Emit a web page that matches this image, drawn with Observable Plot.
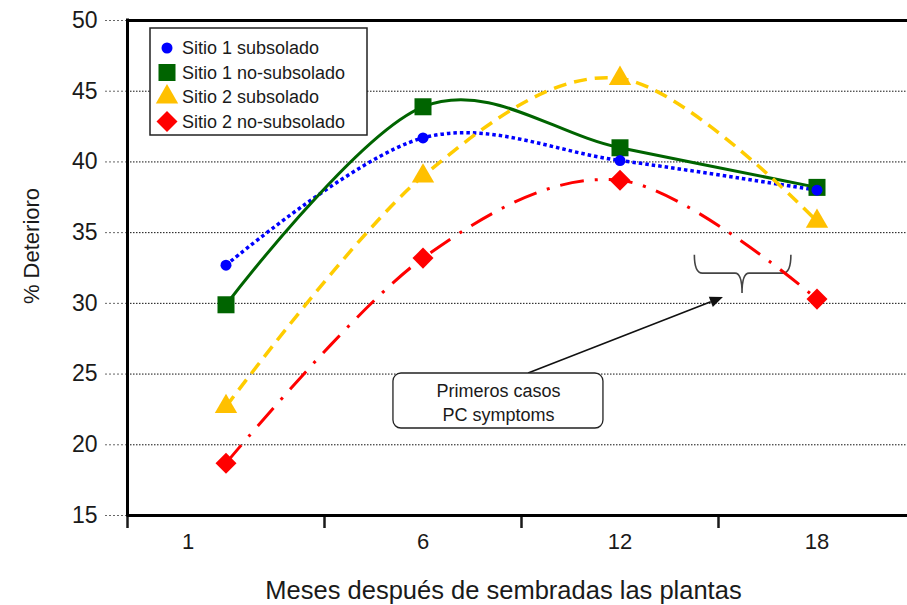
<!DOCTYPE html>
<html>
<head>
<meta charset="utf-8">
<script src="https://cdn.jsdelivr.net/npm/d3@7"></script>
<script src="https://cdn.jsdelivr.net/npm/@observablehq/plot@0.6"></script>
<style>
  html, body { margin: 0; padding: 0; background: #fff; overflow: hidden; }
  #chart svg [aria-label="y-axis tick"] path { stroke-dasharray: 2 2; }
</style>
</head>
<body>
<div id="chart"></div>
<script>
// Months after planting (category labels on the x axis)
const months = [1, 6, 12, 18];

// Series names
const series = ["Sitio 1 subsolado", "Sitio 1 no-subsolado", "Sitio 2 subsolado", "Sitio 2 no-subsolado"];

// % deterioration per series, one value per month
const sitio1Subsolado   = [32.7, 41.7, 40.1, 38.0];
const sitio1NoSubsolado = [29.9, 43.9, 41.0, 38.2];
const sitio2Subsolado   = [22.7, 39.0, 45.9, 35.8];
const sitio2NoSubsolado = [18.7, 33.2, 38.7, 30.3];

// y axis ticks
const yTicks = [15, 20, 25, 30, 35, 40, 45, 50];

// Callout: box with text, arrow and brace (data units: x = category slot, y = %)
const calloutBox = { x1: 1.35, x2: 2.416, y1: 21.15, y2: 25.04, text: "Primeros casos\nPC symptoms" };
const calloutArrow = { x1: 2.036, y1: 25.04, x2: 3.025, y2: 30.41 };
const calloutBrace = { x1: 2.88, xm: 3.122, x2: 3.37, top: 33.4, mid: 32.1, tip: 30.7 };

// Styling per series
const lineColors = ["#0000ff", "#006400", "#ffcc00", "#ff0000"];
const markerColors = ["#0000ff", "#006400", "#ffc000", "#ff0000"];
const lineDashes = ["3.5 3", null, "13 8", "24 11 3 11"];
const lineWidths = [3.5, 3, 3.5, 3];
const diamondSymbol = {
  draw(ctx, size) {
    const r = Math.sqrt(size / 2);
    ctx.moveTo(0, -r); ctx.lineTo(r, 0); ctx.lineTo(0, r); ctx.lineTo(-r, 0); ctx.closePath();
  }
};
const markerSymbols = [d3.symbolCircle, d3.symbolSquare, d3.symbolTriangle, diamondSymbol];
const markerRadii = [5.5, 9.6, 8.3, 8.4];

const values = [sitio1Subsolado, sitio1NoSubsolado, sitio2Subsolado, sitio2NoSubsolado];
const rows = series.flatMap((s, k) => values[k].map((v, i) => ({ serie: s, k, x: i + 0.5, y: v })));

// Legend drawn inside the frame, top-left
function legend(index, scales, vals, dims) {
  const g = d3.create("svg:g");
  const x0 = dims.marginLeft + 23, y0 = dims.marginTop + 8;
  g.append("rect")
    .attr("x", x0).attr("y", y0).attr("width", 217).attr("height", 107)
    .attr("fill", "#fff").attr("stroke", "#222").attr("stroke-width", 1.5);
  series.forEach((s, k) => {
    const cy = y0 + 20 + k * 24.5;
    g.append("path")
      .attr("transform", `translate(${x0 + 17},${cy})`)
      .attr("d", d3.symbol(markerSymbols[k], Math.PI * markerRadii[k] ** 2)())
      .attr("fill", markerColors[k]);
    g.append("text")
      .attr("x", x0 + 32).attr("y", cy).attr("dy", "0.35em")
      .attr("text-anchor", "start")
      .attr("font-size", 18).attr("fill", "#1a1a1a")
      .text(s);
  });
  return g.node();
}

// Arrow and brace of the callout
function calloutMarks(index, scales) {
  const sx = scales.x, sy = scales.y;
  const g = d3.create("svg:g");
  // brace
  const b = calloutBrace;
  const bx1 = sx(b.x1), bxm = sx(b.xm), bx2 = sx(b.x2);
  const bt = sy(b.top), bm = sy(b.mid), bp = sy(b.tip);
  const p = d3.path();
  p.moveTo(bx1, bt); p.quadraticCurveTo(bx1, bm, bx1 + 8, bm); p.lineTo(bxm - 7, bm); p.quadraticCurveTo(bxm, bm, bxm, bp);
  p.moveTo(bx2, bt); p.quadraticCurveTo(bx2, bm, bx2 - 8, bm); p.lineTo(bxm + 7, bm); p.quadraticCurveTo(bxm, bm, bxm, bp);
  g.append("path").attr("d", p.toString()).attr("fill", "none").attr("stroke", "#444").attr("stroke-width", 1.6);
  // arrow
  const a = calloutArrow;
  const ax1 = sx(a.x1), ay1 = sy(a.y1), ax2 = sx(a.x2), ay2 = sy(a.y2);
  const ang = Math.atan2(ay2 - ay1, ax2 - ax1);
  const hl = 13, hw = 5.5;
  const bxp = ax2 - hl * Math.cos(ang), byp = ay2 - hl * Math.sin(ang);
  g.append("line").attr("x1", ax1).attr("y1", ay1).attr("x2", bxp).attr("y2", byp)
    .attr("stroke", "#111").attr("stroke-width", 1.6);
  g.append("path")
    .attr("d", `M${ax2},${ay2}L${bxp - hw * Math.sin(ang)},${byp + hw * Math.cos(ang)}L${bxp + hw * Math.sin(ang)},${byp - hw * Math.cos(ang)}Z`)
    .attr("fill", "#111");
  return g.node();
}

const chart = Plot.plot({
  width: 907,
  height: 605,
  marginLeft: 127,
  marginTop: 20,
  marginBottom: 90,
  marginRight: 0,
  style: { fontFamily: "'Liberation Sans', Arial, sans-serif", color: "#1a1a1a", background: "#fff" },
  x: { domain: [0, months.length], range: [127, 915] },
  y: { domain: [15, 50] },
  marks: [
    // horizontal dotted grid
    Plot.ruleY(yTicks.filter(t => t > 15 && t < 50), { stroke: "#111", strokeWidth: 1, strokeDasharray: "1.5 1.5" }),
    Plot.axisY({ ticks: yTicks, tickSize: 22, tickPadding: 8, fontSize: 23, label: null, stroke: "#666" }),
    Plot.axisX({ ticks: d3.range(months.length + 1), tickSize: 13, tickFormat: () => "", strokeWidth: 2.5, label: null }),
    // frame lines
    Plot.ruleY([50], { stroke: "#000", strokeWidth: 3 }),
    Plot.ruleY([15], { stroke: "#000", strokeWidth: 3 }),
    Plot.ruleX([0], { stroke: "#000", strokeWidth: 3, strokeLinecap: "square" }),
    // month labels
    Plot.text(months, { x: (d, i) => i + 0.5, text: d => String(d), frameAnchor: "bottom", lineAnchor: "middle", dy: 26, fontSize: 22, filter: (d, i) => i === 0, dx: -38 }),
    Plot.text(months, { x: (d, i) => i + 0.5, text: d => String(d), frameAnchor: "bottom", lineAnchor: "middle", dy: 26, fontSize: 22, filter: (d, i) => i > 0 }),
    // axis titles
    Plot.text(["Meses después de sembradas las plantas"], { frameAnchor: "bottom", textAnchor: "middle", lineAnchor: "middle", dx: -14, dy: 75, fontSize: 25.5 }),
    Plot.text(["% Deterioro"], { frameAnchor: "left", textAnchor: "middle", lineAnchor: "middle", dx: -96, dy: -22, rotate: -90, fontSize: 22 }),
    // callout
    calloutMarks,
    Plot.rect([calloutBox], { x1: "x1", x2: "x2", y1: "y1", y2: "y2", rx: 8, fill: "#fff", stroke: "#222", strokeWidth: 1.3 }),
    Plot.text([calloutBox], { x: d => (d.x1 + d.x2) / 2, y: d => (d.y1 + d.y2) / 2, text: "text", fontSize: 18, lineHeight: 1.33 }),
    // series lines
    ...series.map((s, k) => Plot.line(rows.filter(r => r.k === k), {
      x: "x", y: "y", curve: "cardinal", tension: 0,
      stroke: lineColors[k], strokeWidth: lineWidths[k], strokeDasharray: lineDashes[k],
      strokeLinecap: "butt", strokeLinejoin: "round"
    })),
    // series markers
    ...[3, 2, 1, 0].map(k => Plot.dot(rows.filter(r => r.k === k), {
      x: "x", y: "y", symbol: markerSymbols[k], r: markerRadii[k], fill: markerColors[k], stroke: "none"
    })),
    legend
  ]
});

document.getElementById("chart").append(chart);
</script>
</body>
</html>
